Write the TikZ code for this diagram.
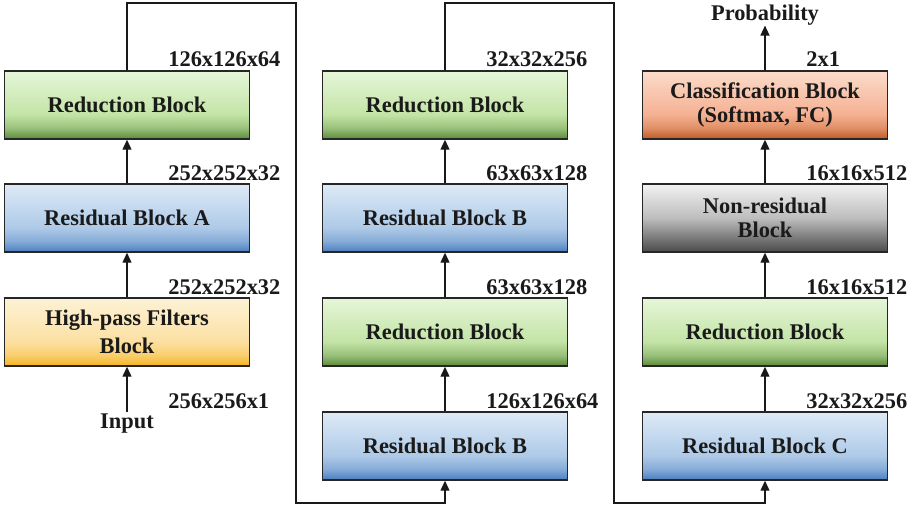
\documentclass[tikz,border=0pt]{standalone}
\usepackage{fontspec}
\setmainfont{Liberation Serif}[BoldFont={Liberation Serif Bold}]
\usetikzlibrary{arrows.meta}

% Block colours (light top, dark bottom)
\definecolor{gLight}{HTML}{E6F6D9}
\definecolor{gMid}{HTML}{C3E4A6}
\definecolor{gDark}{HTML}{5A8A38}
\definecolor{bLight}{HTML}{DEEAF6}
\definecolor{bMid}{HTML}{AECAE8}
\definecolor{bDark}{HTML}{4A7EBE}
\definecolor{yLight}{HTML}{FDF2D6}
\definecolor{yMid}{HTML}{FCE0A2}
\definecolor{yDark}{HTML}{F5B320}
\definecolor{oLight}{HTML}{FBDCCB}
\definecolor{oMid}{HTML}{F5B192}
\definecolor{oDark}{HTML}{BF5A22}
\definecolor{kLight}{HTML}{F2F2F2}
\definecolor{kMid}{HTML}{BDBDBD}
\definecolor{kDark}{HTML}{4A4A4A}
\definecolor{ink}{HTML}{1A1A1A}

% Vertical shadings: the path spans 25bp (bottom) to 75bp (top)
\pgfdeclareverticalshading{greenshade}{100bp}{color(0bp)=(gDark); color(25bp)=(gDark); color(33bp)=(gMid!60!gDark); color(43bp)=(gMid); color(75bp)=(gLight); color(100bp)=(gLight)}
\pgfdeclareverticalshading{blueshade}{100bp}{color(0bp)=(bDark); color(25bp)=(bDark); color(33bp)=(bMid!60!bDark); color(43bp)=(bMid); color(75bp)=(bLight); color(100bp)=(bLight)}
\pgfdeclareverticalshading{yellowshade}{100bp}{color(0bp)=(yDark); color(25bp)=(yDark); color(33bp)=(yMid!60!yDark); color(43bp)=(yMid); color(75bp)=(yLight); color(100bp)=(yLight)}
\pgfdeclareverticalshading{orangeshade}{100bp}{color(0bp)=(oDark); color(25bp)=(oDark); color(33bp)=(oMid!60!oDark); color(43bp)=(oMid); color(75bp)=(oLight); color(100bp)=(oLight)}
\pgfdeclareverticalshading{grayshade}{100bp}{color(0bp)=(kDark); color(25bp)=(kDark); color(50bp)=(kMid); color(75bp)=(kLight); color(100bp)=(kLight)}

\tikzset{
  blockbox/.style={draw=black!85, line width=0.75pt, minimum width=122.5pt,
    minimum height=34pt, inner sep=0pt, align=center, text=ink,
    font=\fontsize{11.2}{12.5}\selectfont\bfseries},
  twoline/.style={yshift=-1pt},
  greenbox/.style={blockbox, shading=greenshade},
  bluebox/.style={blockbox, shading=blueshade},
  yellowbox/.style={blockbox, shading=yellowshade},
  orangebox/.style={blockbox, shading=orangeshade},
  graybox/.style={blockbox, shading=grayshade},
  dimlabel/.style={anchor=base west, inner sep=0pt, text=ink,
    font=\fontsize{11.2}{12.5}\selectfont\bfseries},
  plain/.style={inner sep=0pt, text=ink, font=\fontsize{11.2}{12.5}\selectfont\bfseries},
  wire/.style={draw=black!90, line width=0.65pt},
  flow/.style={wire, -{Triangle[length=5pt,width=4.5pt]}}
}

\begin{document}
\begin{tikzpicture}[x=0.5pt, y=-0.5pt]
\useasboundingbox (0,0) rectangle (912,507);

% First column
\node[greenbox]  (red1) at (127,105) {Reduction Block};
\node[bluebox]   (resA) at (127,218) {Residual Block A};
\node[yellowbox] (hpf)  at (127,332) {\raisebox{-2pt}{\shortstack{High-pass Filters\\[1pt]Block}}};
\node[plain]     (inp)  at (127,424) {Input};

% Second column
\node[greenbox] (red2) at (445,105) {Reduction Block};
\node[bluebox]  (resB2) at (445,218) {Residual Block B};
\node[greenbox] (red3) at (445,332) {Reduction Block};
\node[bluebox]  (resB1) at (445,446) {Residual Block B};

% Third column
\node[orangebox] (cls)  at (765,105) {\raisebox{-2pt}{\shortstack{Classification Block\\[1pt](Softmax, FC)}}};
\node[graybox]   (nres) at (765,218) {\raisebox{-2pt}{\shortstack{Non-residual\\[1pt]Block}}};
\node[greenbox]  (red4) at (765,332) {Reduction Block};
\node[bluebox]   (resC) at (765,446) {Residual Block C};
\node[plain]     (prob) at (765,15) {Probability};

% Tensor sizes
\node[dimlabel] at (168,67)  {126x126x64};
\node[dimlabel] at (168,181) {252x252x32};
\node[dimlabel] at (168,295) {252x252x32};
\node[dimlabel] at (168,409) {256x256x1};
\node[dimlabel] at (486,67)  {32x32x256};
\node[dimlabel] at (486,181) {63x63x128};
\node[dimlabel] at (486,295) {63x63x128};
\node[dimlabel] at (486,409) {126x126x64};
\node[dimlabel] at (806,67)  {2x1};
\node[dimlabel] at (806,181) {16x16x512};
\node[dimlabel] at (806,295) {16x16x512};
\node[dimlabel] at (806,409) {32x32x256};

% Flow within columns
\draw[flow] (inp.north |- 0,412) -- (hpf.south);
\draw[flow] (hpf) -- (resA);
\draw[flow] (resA) -- (red1);
\draw[flow] (resB1) -- (red3);
\draw[flow] (red3) -- (resB2);
\draw[flow] (resB2) -- (red2);
\draw[flow] (resC) -- (red4);
\draw[flow] (red4) -- (nres);
\draw[flow] (nres) -- (cls);
\draw[flow] (cls) -- (prob);

% Links between columns
\coordinate (topA) at (296,3);
\coordinate (botA) at (296,503);
\coordinate (topB) at (614,3);
\coordinate (botB) at (614,503);
\draw[flow] (red1.north) |- (topA) -- (botA) -| (resB1.south);
\draw[flow] (red2.north) |- (topB) -- (botB) -| (resC.south);
\end{tikzpicture}
\end{document}
